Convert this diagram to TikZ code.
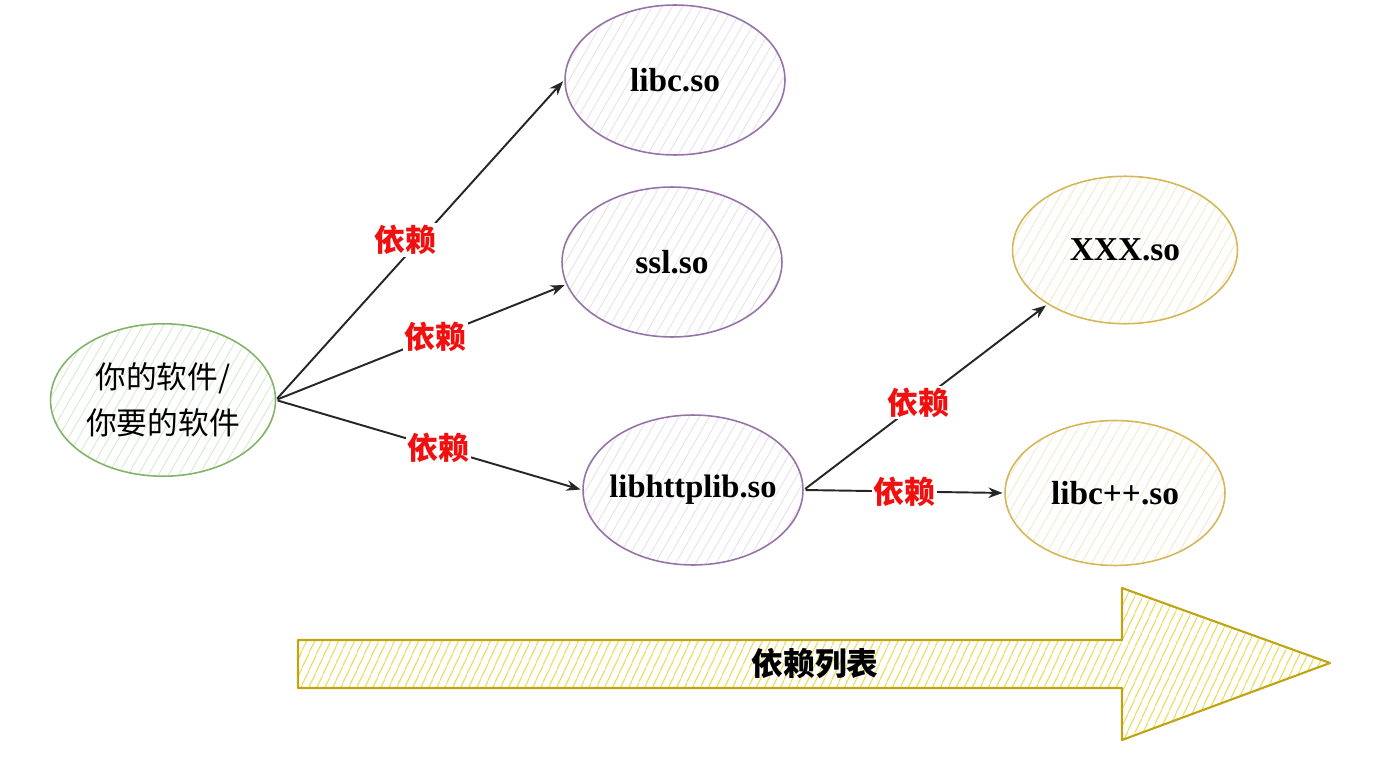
\documentclass[tikz,border=0pt]{standalone}
\usepackage{fontspec}
\setmainfont{Liberation Serif}
\newfontfamily\cjk{Noto Sans CJK SC}
\usetikzlibrary{positioning, arrows.meta, shapes.geometric, patterns.meta}
\definecolor{softline}{HTML}{82B366}
\definecolor{libline}{HTML}{9673A6}
\definecolor{extline}{HTML}{D6B656}
\definecolor{listline}{HTML}{BFA514}
\definecolor{listhatch}{HTML}{E6D94A}
\definecolor{deplabel}{HTML}{F01010}
\tikzset{
  % hand drawn look: white fill with slanted hatching
  bubble/.style={
    draw, ellipse, line width=0.9pt, align=center,
    minimum width=4.4cm, minimum height=3cm,
    preaction={fill=white},
    pattern={Lines[angle=60, distance=5pt, line width=0.5pt]}
  },
  softbubble/.style={bubble, draw=softline, pattern color=softline!30,
    minimum width=4.5cm, minimum height=3.05cm, inner sep=0pt,
    font=\cjk\fontsize{17.5}{26}\selectfont},
  libbubble/.style={bubble, draw=libline, pattern color=libline!22,
    font=\bfseries\fontsize{19}{22}\selectfont},
  extbubble/.style={bubble, draw=extline, pattern color=extline!30,
    font=\bfseries\fontsize{19}{22}\selectfont},
  % dependency arrows
  dep/.style={
    -{Stealth[length=8pt, width=6pt]}, line width=1.1pt, black!85,
    shorten >=1pt, shorten <=1pt
  },
  deptext/.style={
    font=\cjk\bfseries\fontsize{17.5}{20}\selectfont, text=deplabel,
    fill=white, inner sep=1pt
  },
  listarrow/.style={
    draw=listline, line width=1.2pt, line join=round,
    preaction={fill=white},
    pattern={Lines[angle=65, distance=4pt, line width=0.8pt]},
    pattern color=listhatch
  },
  listtext/.style={font=\cjk\bfseries\fontsize{18}{20}\selectfont},
}

\begin{document}
\begin{tikzpicture}[x=0.02cm, y=-0.02cm]
  \useasboundingbox (0,0) rectangle (1390,767);

  %% -- Software --
  \node[softbubble] (soft) at (163,400) {你的软件/\\你要的软件};

  %% -- Libraries --
  \node[libbubble] (libc)    at (675,80)  {libc.so};
  \node[libbubble] (ssl)     at (672,262) {ssl.so};
  \node[libbubble, inner sep=0pt, font=\bfseries\fontsize{18.5}{22}\selectfont]
    (httplib) at (693,490) {\makebox[2.9cm]{libhttplib.so}};

  %% -- Indirect dependencies --
  \node[extbubble, minimum width=4.5cm, minimum height=2.95cm] (xxx)    at (1125,250) {XXX.so};
  \node[extbubble, minimum height=2.9cm]                       (libcpp) at (1115,493) {libc++.so};

  %% -- Dependencies --
  \draw[dep] (soft.east) -- (libc.west)   node[deptext, pos=0.5, xshift=-0.3cm] {依赖};
  \draw[dep] (soft.east) -- (ssl.192)     node[deptext, pos=0.55] {依赖};
  \draw[dep] (soft.east) -- (httplib.west) node[deptext, pos=0.53] {依赖};
  \draw[dep] (httplib.east) -- (xxx.215)  node[deptext, pos=0.47] {依赖};
  \draw[dep] (httplib.east) -- (libcpp.west) node[deptext, pos=0.5] {依赖};

  %% -- Dependency list --
  \draw[listarrow] (298,640) -- (1122,640) -- (1122,588) -- (1330,663)
    -- (1122,740) -- (1122,688) -- (298,688) -- cycle;
  \node[listtext] (list) at (815,664) {依赖列表};

\end{tikzpicture}
\end{document}
